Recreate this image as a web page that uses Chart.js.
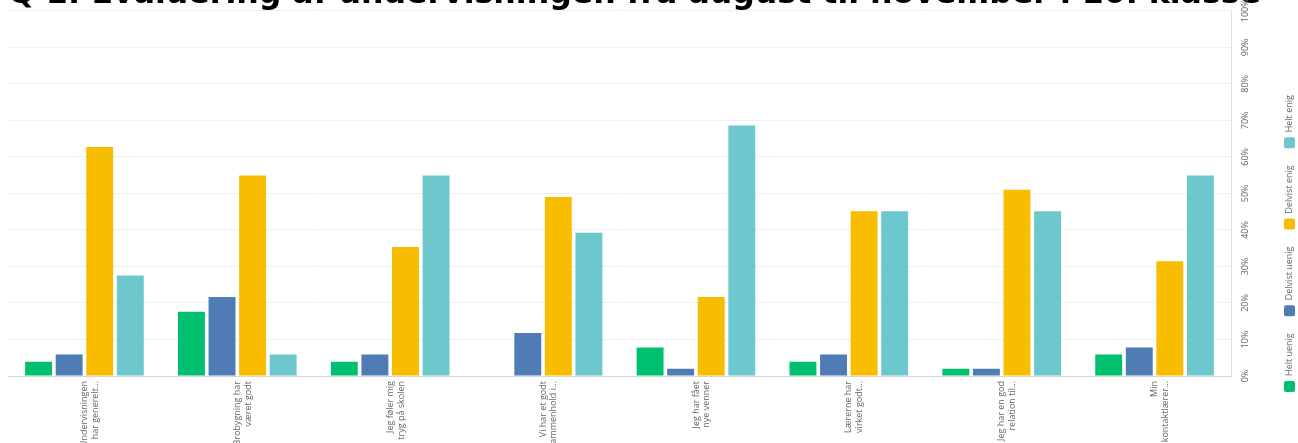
<!DOCTYPE html>
<html>
<head>
<meta charset="utf-8">
<script src="https://cdn.jsdelivr.net/npm/chart.js@4.4.1/dist/chart.umd.min.js"></script>
<style>
  html, body { margin: 0; padding: 0; background: #fff; overflow: hidden; }
  #wrap { position: absolute; left: 0; top: -30px; width: 1298px; height: 496px; }
</style>
</head>
<body>
<div id="wrap"><canvas id="evalChart"></canvas></div>
<script>
// Data (percent of answers)
const titleText = 'Q 1: Evaluering af undervisningen fra august til november i 10. klasse';
const questions = [
    ['Undervisningen', 'har generelt...'],
    ['Brobygning har', 'været godt'],
    ['Jeg føler mig', 'tryg på skolen'],
    ['Vi har et godt', 'sammenhold i...'],
    ['Jeg har fået', 'nye venner'],
    ['Lærerne har', 'virket godt...'],
    ['Jeg har en god', 'relation til...'],
    ['Min', 'kontaktlærer...']
];
const seriesNames = ['Helt uenig', 'Delvist uenig', 'Delvist enig', 'Helt enig'];
const seriesColors = ['#00bf6f', '#4f7cb5', '#f9bd00', '#6cc8cc'];
const heltUenig = [3.9, 17.6, 3.9, 0, 7.8, 3.9, 2.0, 5.9];
const delvistUenig = [5.9, 21.6, 5.9, 11.8, 2.0, 5.9, 2.0, 7.8];
const delvistEnig = [62.7, 54.9, 35.3, 49.0, 21.6, 45.1, 51.0, 31.4];
const heltEnig = [27.5, 5.9, 54.9, 39.2, 68.6, 45.1, 45.1, 54.9];
const yMax = 100;
const yStep = 10;

const seriesValues = [heltUenig, delvistUenig, delvistEnig, heltEnig];

// Vertical legend drawn at the right edge, reading bottom-to-top
const sideLegend = {
    id: 'sideLegend',
    afterDraw(chart) {
        const ctx = chart.ctx;
        const x = chart.width - 8.5;
        let y = chart.chartArea.bottom + 16;
        ctx.save();
        ctx.font = '9px "Open Sans"';
        ctx.textBaseline = 'middle';
        ctx.textAlign = 'left';
        chart.data.datasets.forEach(ds => {
            ctx.fillStyle = ds.backgroundColor;
            ctx.beginPath();
            ctx.roundRect(x - 5.5, y - 11, 11, 11, 2);
            ctx.fill();
            y -= 11 + 5;
            ctx.save();
            ctx.translate(x, y);
            ctx.rotate(-Math.PI / 2);
            ctx.fillStyle = '#666';
            ctx.fillText(ds.label, 0, 0);
            ctx.restore();
            y -= ctx.measureText(ds.label).width + 17;
        });
        ctx.restore();
    }
};

const ctx = document.getElementById('evalChart').getContext('2d');
const evalChart = new Chart(ctx, {
    type: 'bar',
    data: {
        labels: questions,
        datasets: seriesNames.map((name, i) => ({
            label: name,
            data: seriesValues[i],
            backgroundColor: seriesColors[i],
            borderWidth: 0,
            categoryPercentage: 0.8,
            barPercentage: 0.88
        }))
    },
    options: {
        responsive: true,
        maintainAspectRatio: false,
        animation: false,
        layout: {
            padding: { top: 9, left: 8, right: 37, bottom: 0 }
        },
        plugins: {
            legend: { display: false },
            tooltip: { enabled: false },
            title: {
                display: true,
                text: titleText,
                align: 'start',
                color: '#000',
                font: { family: '"DejaVu Sans", sans-serif', size: 31.8, weight: 'bold', lineHeight: 1 },
                padding: 0
            }
        },
        scales: {
            x: {
                grid: { display: false, drawTicks: false },
                border: { display: true, color: '#d6d6d6' },
                ticks: {
                    color: '#666',
                    font: { family: '"Open Sans"', size: 9, lineHeight: 1.2 },
                    minRotation: 90,
                    maxRotation: 90,
                    autoSkip: false,
                    padding: 5
                },
                afterFit(scale) { scale.height = 90; }
            },
            y: {
                position: 'right',
                min: 0,
                max: yMax,
                grid: { color: '#f0f0f0', drawTicks: false },
                border: { display: true, color: '#e0e0e0' },
                ticks: {
                    stepSize: yStep,
                    color: '#666',
                    font: { family: '"Open Sans"', size: 9 },
                    minRotation: 90,
                    maxRotation: 90,
                    crossAlign: 'center',
                    padding: 3,
                    callback: v => v + '%'
                },
                afterFit(scale) { scale.width = 30; }
            }
        }
    },
    plugins: [sideLegend]
});
</script>
</body>
</html>
